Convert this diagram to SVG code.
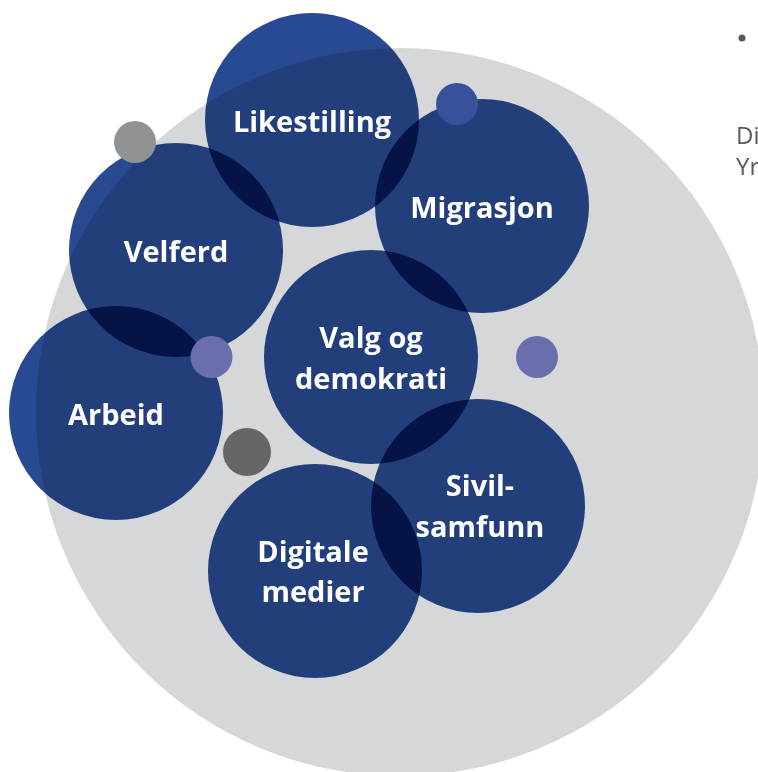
<svg xmlns="http://www.w3.org/2000/svg" width="758" height="772" viewBox="0 0 758 772">
<style>
.bg{fill:#d6d7d9}
.topic{fill:#284a92;mix-blend-mode:multiply}
.lbl{fill:#ffffff;font-family:"Open Sans","Liberation Sans",sans-serif;font-weight:700;font-size:29px;text-anchor:middle}
.side{fill:#58595b;font-family:"Open Sans","Liberation Sans",sans-serif;font-size:24px}
</style>
<rect width="758" height="772" fill="#ffffff"/>
<circle class="bg" cx="400" cy="412" r="364"/>
<g id="likestilling"><circle class="topic" cx="312" cy="120" r="107"/></g>
<g id="migrasjon"><circle class="topic" cx="482" cy="206" r="107"/></g>
<g id="velferd"><circle class="topic" cx="176" cy="250" r="107"/></g>
<g id="valg"><circle class="topic" cx="371" cy="357" r="107"/></g>
<g id="arbeid"><circle class="topic" cx="116" cy="413" r="107"/></g>
<g id="sivilsamfunn"><circle class="topic" cx="478" cy="506" r="107"/></g>
<g id="digitale"><circle class="topic" cx="315" cy="571" r="107"/></g>
<g id="dots">
<circle cx="135" cy="142" r="21" fill="#8f9396"/>
<circle cx="457" cy="104" r="21" fill="#38519a"/>
<circle cx="211.5" cy="357" r="21" fill="#6a6ead"/>
<circle cx="537" cy="357" r="21" fill="#6a6ead"/>
<circle cx="247" cy="452" r="24" fill="#666666"/>
</g>
<g id="labels">
<text class="lbl" x="312" y="132">Likestilling</text>
<text class="lbl" x="482" y="218">Migrasjon</text>
<text class="lbl" x="176" y="262">Velferd</text>
<text class="lbl" x="371" y="348">Valg og</text>
<text class="lbl" x="371" y="389">demokrati</text>
<text class="lbl" x="116" y="425">Arbeid</text>
<text class="lbl" x="480" y="496">Sivil-</text>
<text class="lbl" x="480" y="537">samfunn</text>
<text class="lbl" x="313" y="562">Digitale</text>
<text class="lbl" x="313" y="602">medier</text>
</g>
<g id="side-text">
<circle cx="742" cy="38" r="3.5" fill="#58595b"/>
<text class="side" x="736" y="144">Di</text>
<text class="side" x="736" y="175">Yr</text>
</g>
</svg>
